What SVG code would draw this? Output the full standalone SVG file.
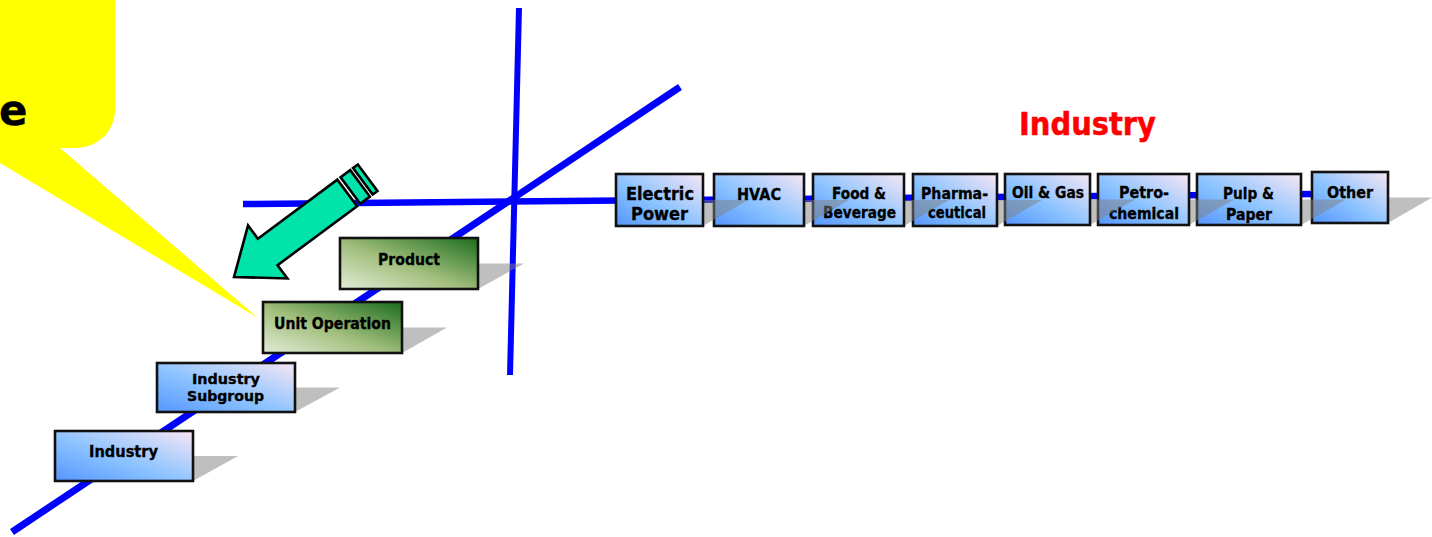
<svg xmlns="http://www.w3.org/2000/svg" width="1432" height="537" viewBox="0 0 1432 537">
<defs>
<linearGradient id="gBlue" x1="0" y1="1" x2="1" y2="0">
<stop offset="0" stop-color="#5596ff"/>
<stop offset="0.45" stop-color="#8cc3ff"/>
<stop offset="1" stop-color="#f8e6f4"/>
</linearGradient>
<linearGradient id="gGreen" x1="0" y1="1" x2="1" y2="0">
<stop offset="0" stop-color="#e2ecd8"/>
<stop offset="0.45" stop-color="#a3c07e"/>
<stop offset="1" stop-color="#1c6c1c"/>
</linearGradient>
</defs>
<style>
.blue{fill:url(#gBlue);stroke:#111;stroke-width:2.6}
.green{fill:url(#gGreen);stroke:#111;stroke-width:2.6}
.sh{fill:#808080;opacity:0.5}
.ln{stroke:#0000ff;fill:none;stroke-linecap:butt}
.t{font-family:"DejaVu Sans","Liberation Sans",sans-serif;font-weight:bold;fill:#000;stroke:#000;stroke-width:0.35;text-anchor:middle}
.s15{font-size:16px}
.s145{font-size:14.5px}
.s14{font-size:15.5px}
.s18{font-size:17.5px}
.arrow{fill:#00e3aa;stroke:#000;stroke-width:2.6;stroke-linejoin:miter}
</style>
<rect width="1432" height="537" fill="#fff"/>

<g id="callout">
<path d="M-40,-40 H115 V110 A38,38 0 0 1 77,148 H60 L258,318 L0,163 L-40,148 Z" fill="#ffff00"/>
<text class="t" x="-1" y="125" style="font-size:42px;text-anchor:start">e</text>
</g>

<g id="connectors">
<line class="ln" x1="519" y1="8" x2="510" y2="375" stroke-width="6"/>
<line class="ln" x1="680" y1="87" x2="12" y2="532" stroke-width="7"/>
<line class="ln" x1="243" y1="204" x2="1314" y2="194" stroke-width="6.5"/>
</g>

<g id="industry-axis">
<g id="n-other">
<polygon class="sh" points="1357,197.5 1432,197.5 1388,223 1312,223"/>
<rect class="blue" x="1312" y="172" width="76" height="51"/>
<text class="t s14" x="1350" y="198" textLength="46" lengthAdjust="spacingAndGlyphs">Other</text>
</g>
<g id="n-pulp">
<polygon class="sh" points="1242,199.5 1346,199.5 1301,225 1197,225"/>
<rect class="blue" x="1197" y="174" width="104" height="51"/>
<text class="t s14" x="1248.5" y="199" textLength="51" lengthAdjust="spacingAndGlyphs">Pulp &amp;</text>
<text class="t s14" x="1249" y="220" textLength="46" lengthAdjust="spacingAndGlyphs">Paper</text>
</g>
<g id="n-petro">
<polygon class="sh" points="1143,199.5 1234,199.5 1189,225 1098,225"/>
<rect class="blue" x="1098" y="174" width="91" height="51"/>
<text class="t s14" x="1144" y="198" textLength="50" lengthAdjust="spacingAndGlyphs">Petro-</text>
<text class="t s14" x="1144" y="219" textLength="70" lengthAdjust="spacingAndGlyphs">chemical</text>
</g>
<g id="n-oil">
<polygon class="sh" points="1050,199.5 1135,199.5 1090,225 1005,225"/>
<rect class="blue" x="1005" y="174" width="85" height="51"/>
<text class="t s14" x="1048" y="198" textLength="72" lengthAdjust="spacingAndGlyphs">Oil &amp; Gas</text>
</g>
<g id="n-pharma">
<polygon class="sh" points="958,200 1042,200 997,226 913,226"/>
<rect class="blue" x="913" y="174" width="84" height="52"/>
<text class="t s14" x="954.5" y="199" textLength="67" lengthAdjust="spacingAndGlyphs">Pharma-</text>
<text class="t s14" x="957" y="218" textLength="58" lengthAdjust="spacingAndGlyphs">ceutical</text>
</g>
<g id="n-food">
<polygon class="sh" points="858,200 949,200 904,226 813,226"/>
<rect class="blue" x="813" y="174" width="91" height="52"/>
<text class="t s14" x="859" y="199" textLength="54" lengthAdjust="spacingAndGlyphs">Food &amp;</text>
<text class="t s14" x="859.5" y="218" textLength="73" lengthAdjust="spacingAndGlyphs">Beverage</text>
</g>
<g id="n-hvac">
<polygon class="sh" points="759,200 849,200 804,226 714,226"/>
<rect class="blue" x="714" y="174" width="90" height="52"/>
<text class="t s14" x="759" y="200" textLength="44" lengthAdjust="spacingAndGlyphs">HVAC</text>
</g>
<g id="n-electric">
<polygon class="sh" points="661,200 748,200 703,226 616,226"/>
<rect class="blue" x="616" y="174" width="87" height="52"/>
<text class="t s18" x="660" y="200" textLength="68" lengthAdjust="spacingAndGlyphs">Electric</text>
<text class="t s18" x="659.5" y="220" textLength="57" lengthAdjust="spacingAndGlyphs">Power</text>
</g>
<text id="industry-title" class="t" x="1087.5" y="135" style="font-size:32px;fill:#ff0000;stroke:#ff0000;stroke-width:0.5" textLength="137" lengthAdjust="spacingAndGlyphs">Industry</text>
</g>

<g id="n-industry">
<polygon class="sh" points="100,456 238,456 193,481 55,481"/>
<rect class="blue" x="55" y="431" width="138" height="50"/>
<text class="t s15" x="123.5" y="457" textLength="69" lengthAdjust="spacingAndGlyphs">Industry</text>
</g>
<g id="n-subgroup">
<polygon class="sh" points="202,387.5 340,387.5 295,412 157,412"/>
<rect class="blue" x="157" y="363" width="138" height="49"/>
<text class="t s145" x="226" y="384" textLength="68" lengthAdjust="spacingAndGlyphs">Industry</text>
<text class="t s145" x="225.5" y="401" textLength="77" lengthAdjust="spacingAndGlyphs">Subgroup</text>
</g>
<g id="n-unitop">
<polygon class="sh" points="308,327.5 447,327.5 402,353 263,353"/>
<rect class="green" x="263" y="302" width="139" height="51"/>
<text class="t s15" x="332.5" y="329" textLength="117" lengthAdjust="spacingAndGlyphs">Unit Operation</text>
</g>
<g id="n-product">
<polygon class="sh" points="386,263.5 524,263.5 478,289 340,289"/>
<rect class="green" x="340" y="238" width="138" height="51"/>
<text class="t s15" x="409" y="265" textLength="62" lengthAdjust="spacingAndGlyphs">Product</text>
</g>

<g id="big-arrow" transform="translate(234,277) rotate(-36.6)">
<polygon class="arrow" points="0,0 42,-33 42,-16.5 141,-16.5 141,16.5 42,16.5 42,33"/>
<rect class="arrow" x="145" y="-16.5" width="12" height="33"/>
<rect class="arrow" x="160.5" y="-16.5" width="6" height="33"/>
</g>
</svg>
